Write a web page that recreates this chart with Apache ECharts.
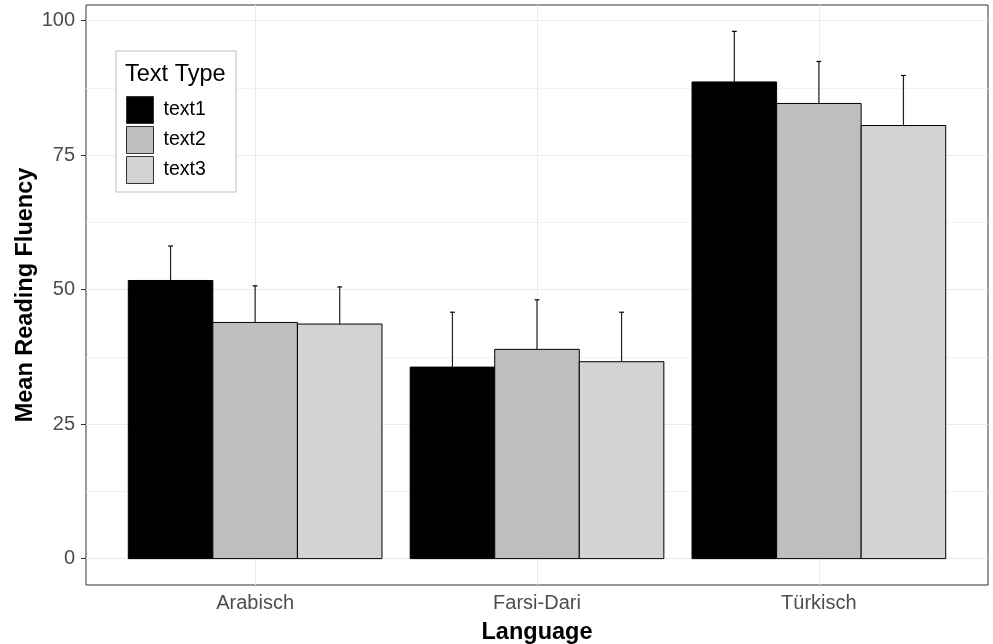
<!DOCTYPE html>
<html>
<head>
<meta charset="utf-8">
<script src="https://cdn.jsdelivr.net/npm/echarts@6/dist/echarts.min.js"></script>
<style>
  html, body { margin: 0; padding: 0; background: #ffffff; }
  #chart { width: 993px; height: 644px; }
</style>
</head>
<body>
<div id="chart"></div>
<script>
// Mean reading fluency per language and text type, with SD error bars
const languages = ['Arabisch', 'Farsi-Dari', 'Türkisch'];
const textTypes = ['text1', 'text2', 'text3'];
const meanText1 = [51.7, 35.6, 88.6];
const meanText2 = [43.9, 38.9, 84.6];
const meanText3 = [43.6, 36.6, 80.5];
const sdText1 = [6.4, 10.2, 9.4];
const sdText2 = [6.8, 9.2, 7.8];
const sdText3 = [6.9, 9.2, 9.3];
const yTicks = [0, 25, 50, 75, 100];
const yMinorTicks = [12.5, 37.5, 62.5, 87.5];

const means = [meanText1, meanText2, meanText3];
const sds = [sdText1, sdText2, sdText3];
const fills = ['#000000', '#BEBEBE', '#D3D3D3'];
const FONT = 'Liberation Sans, Arial, sans-serif';

// dodge geometry in x-axis units (category spacing = 1)
const DODGE = 0.3;
const BAR_W = 0.3;
const CAP_W = 0.017;

function renderBars(k) {
  return function (params, api) {
    const x = api.value(0) + (k - 1) * DODGE;
    const mean = api.value(1);
    const sd = api.value(2);
    const tl = api.coord([x - BAR_W / 2, mean]);
    const br = api.coord([x + BAR_W / 2, 0]);
    const tip = api.coord([x, mean + sd]);
    const cap = api.size([CAP_W, 0])[0] / 2;
    return {
      type: 'group',
      children: [
        {
          type: 'rect',
          shape: { x: tl[0], y: tl[1], width: br[0] - tl[0], height: br[1] - tl[1] },
          style: { fill: fills[k], stroke: '#000000', lineWidth: 1 }
        },
        {
          type: 'line',
          shape: { x1: tip[0], y1: tl[1], x2: tip[0], y2: tip[1] },
          style: { stroke: '#222222', lineWidth: 1.2 }
        },
        {
          type: 'line',
          shape: { x1: tip[0] - cap, y1: tip[1], x2: tip[0] + cap, y2: tip[1] },
          style: { stroke: '#000000', lineWidth: 1.2 }
        }
      ]
    };
  };
}

// panel grid: major and minor horizontal lines, vertical lines at each language
const gridLines = {
  silent: true,
  symbol: ['none', 'none'],
  z: 1,
  animation: false,
  label: { show: false },
  emphasis: { disabled: true },
  data: [
    ...yTicks.map(v => ({ yAxis: v, lineStyle: { color: '#EBEBEB', width: 1, type: 'solid' } })),
    ...yMinorTicks.map(v => ({ yAxis: v, lineStyle: { color: '#F2F2F2', width: 1, type: 'solid' } })),
    ...languages.map((c, i) => ({ xAxis: i + 1, lineStyle: { color: '#EBEBEB', width: 1, type: 'solid' } }))
  ]
};

const series = textTypes.map((name, k) => ({
  name: name,
  type: 'custom',
  z: 2,
  renderItem: renderBars(k),
  encode: { x: 0, y: 1 },
  itemStyle: { color: fills[k], borderColor: '#333333', borderWidth: 1 },
  data: languages.map((c, i) => [i + 1, means[k][i], sds[k][i]]),
  markLine: k === 0 ? gridLines : undefined
}));

const chart = echarts.init(document.getElementById('chart'), null, { renderer: 'canvas' });
chart.setOption({
  animation: false,
  backgroundColor: '#ffffff',
  textStyle: { fontFamily: FONT },
  grid: {
    left: 86, right: 5, top: 5, bottom: 59,
    outerBoundsMode: 'none',
    containLabel: false,
    show: true, borderColor: '#333333', borderWidth: 1, backgroundColor: 'transparent'
  },
  xAxis: {
    type: 'value',
    min: 0.4,
    max: 3.6,
    axisLine: { show: false },
    splitLine: { show: false },
    axisTick: { show: true, customValues: [1, 2, 3], length: 5, lineStyle: { color: '#333333' } },
    axisLabel: {
      customValues: [1, 2, 3],
      formatter: v => languages[Math.round(v) - 1],
      fontSize: 20, color: '#4D4D4D', margin: 8, fontFamily: FONT
    },
    name: 'Language',
    nameLocation: 'middle',
    nameGap: 36,
    nameMoveOverlap: false,
    nameTextStyle: { fontSize: 23.5, fontWeight: 'bold', color: '#000000', fontFamily: FONT }
  },
  yAxis: {
    type: 'value',
    min: -4.9,
    max: 102.9,
    axisLine: { show: false },
    splitLine: { show: false },
    axisTick: { show: true, customValues: yTicks, length: 5, lineStyle: { color: '#333333' } },
    axisLabel: {
      customValues: yTicks,
      fontSize: 20, color: '#4D4D4D', margin: 11, fontFamily: FONT
    },
    name: 'Mean Reading Fluency',
    nameLocation: 'middle',
    nameGap: 48,
    nameMoveOverlap: false,
    nameTextStyle: { fontSize: 23.5, fontWeight: 'bold', color: '#000000', fontFamily: FONT }
  },
  legend: {
    data: textTypes.map(n => ({ name: n, icon: 'rect' })),
    orient: 'vertical',
    left: 126,
    top: 96,
    padding: 0,
    itemWidth: 27,
    itemHeight: 27,
    itemGap: 2,
    selectedMode: false,
    z: 20,
    itemStyle: { borderColor: '#333333', borderWidth: 1 },
    textStyle: { fontSize: 19.5, color: '#000000', padding: [0, 0, 0, 5], fontFamily: FONT }
  },
  graphic: [
    {
      type: 'rect',
      z: 10,
      shape: { x: 116, y: 51, width: 120, height: 141 },
      style: { fill: '#ffffff', stroke: '#BDBDBD', lineWidth: 1 }
    },
    {
      type: 'text',
      z: 20,
      x: 125,
      y: 75,
      style: {
        text: 'Text Type',
        fontSize: 23.5, fontFamily: FONT, fill: '#000000',
        verticalAlign: 'middle', align: 'left'
      }
    }
  ],
  series: series
});
</script>
</body>
</html>
